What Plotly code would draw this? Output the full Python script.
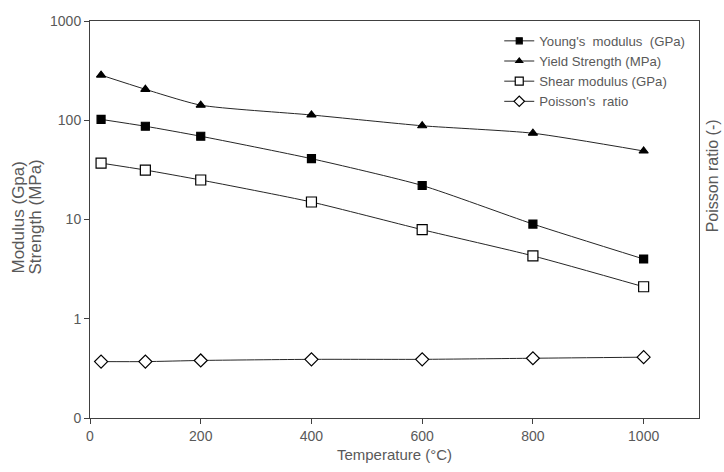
import plotly.graph_objects as go

temperature = [20, 100, 200, 400, 600, 800, 1000]
youngs_modulus = [102, 87, 69, 41, 22, 9, 4]
yield_strength = [285, 205, 142, 113, 88, 74, 49]
shear_modulus = [37, 31.5, 25, 15, 7.9, 4.3, 2.1]
poisson_ratio = [0.37, 0.37, 0.38, 0.39, 0.39, 0.40, 0.41]

series_names = ["Young's  modulus  (GPa)", "Yield Strength (MPa)",
                "Shear modulus (GPa)", "Poisson's  ratio"]

y_tickvals = [0.1, 1, 10, 100, 1000]
y_ticktext = ["0", "1", "10", "100", "1000"]
x_tickvals = [0, 200, 400, 600, 800, 1000]

GRAY = "#595959"
LINE = "#262626"
AX = "#404040"
FONT = "Liberation Sans, Arial, sans-serif"

styles = [
    ("square", 8, "black", 6),
    ("triangle-up", 8, "black", 6),
    ("square", 10, "white", 8),
    ("diamond", 10, "white", 8),
]

fig = go.Figure()

for name, y, (symbol, size, fill, lsize) in zip(series_names,
        [youngs_modulus, yield_strength, shear_modulus, poisson_ratio], styles):
    fig.add_trace(go.Scatter(
        x=temperature, y=y, name=name, mode="lines+markers", showlegend=False,
        line=dict(color=LINE, width=1, shape="spline", smoothing=0.6),
        marker=dict(symbol=symbol, size=size, color=fill,
                    line=dict(color="black", width=1.2)),
    ))
    # legend entry with smaller symbol, as in the reference
    fig.add_trace(go.Scatter(
        x=[None], y=[None], name=name, mode="lines+markers", showlegend=True,
        line=dict(color=LINE, width=1),
        marker=dict(symbol=symbol, size=lsize, color=fill,
                    line=dict(color="black", width=1.2)),
    ))

fig.update_layout(
    width=724, height=472,
    margin=dict(l=90, r=25, t=21, b=52),
    paper_bgcolor="white", plot_bgcolor="white",
    font=dict(family=FONT, size=14, color=GRAY),
    legend=dict(x=0.672, y=0.988, xanchor="left", yanchor="top",
                bgcolor="rgba(0,0,0,0)", font=dict(size=13.2, color=GRAY),
                itemwidth=30, tracegroupgap=0),
    xaxis=dict(range=[0, 1100], tickvals=x_tickvals, showgrid=False, zeroline=False,
               showline=True, linecolor=AX, linewidth=1, mirror=True,
               ticks="outside", ticklen=5, tickcolor=AX,
               title=dict(text="Temperature (°C)", standoff=6, font=dict(size=15, color=GRAY))),
    yaxis=dict(type="log", range=[-1, 3], tickvals=y_tickvals, ticktext=y_ticktext,
               showgrid=False, zeroline=False,
               showline=True, linecolor=AX, linewidth=1, mirror=True,
               ticks="outside", ticklen=5, tickcolor=AX),
    annotations=[
        dict(text="Modulus (Gpa)", xref="paper", yref="paper", x=0, xshift=-71,
             y=0.505, xanchor="center", yanchor="middle", textangle=-90,
             showarrow=False, font=dict(size=17, color=GRAY)),
        dict(text="Strength (MPa)", xref="paper", yref="paper", x=0, xshift=-54,
             y=0.505, xanchor="center", yanchor="middle", textangle=-90,
             showarrow=False, font=dict(size=17, color=GRAY)),
        dict(text="Poisson ratio (-)", xref="paper", yref="paper",
             x=1.0, xshift=24, y=0.61, xanchor="right", yanchor="middle",
             textangle=-90, showarrow=False, font=dict(size=16, color=GRAY)),
    ],
)

fig.write_html("out.html")
